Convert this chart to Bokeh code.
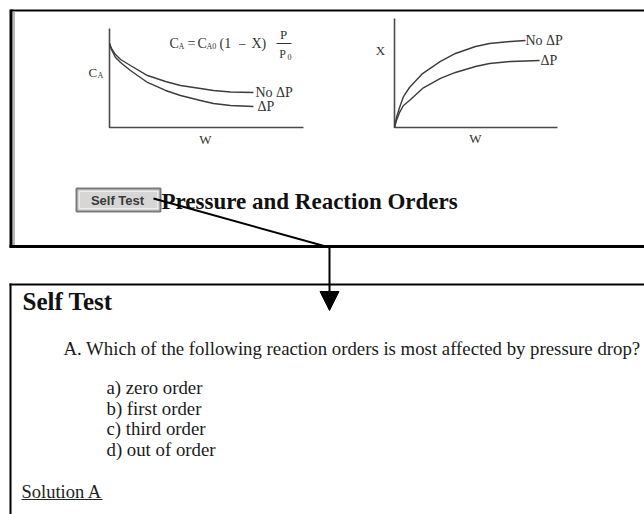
from bokeh.plotting import figure
from bokeh.models import Range1d, Arrow, NormalHead
from bokeh.core.properties import value
from bokeh.embed import file_html
from bokeh.resources import INLINE

# ---------------- data ----------------
# Left sketch: C_A versus W (axis units 0..10)
left_w = [0, 0.10, 0.31, 0.57, 1.08, 1.96, 2.89, 3.66, 4.69, 5.36, 6.24, 7.42]
left_ca_no_dp = [8.48, 7.98, 7.37, 6.87, 6.26, 5.25, 4.65, 4.24, 3.94, 3.74, 3.59, 3.54]
left_ca_dp = [8.48, 7.88, 7.07, 6.57, 5.76, 4.55, 3.74, 3.23, 2.73, 2.42, 2.22, 2.12]
# Right sketch: X versus W (axis units 0..10)
right_w_no_dp = [0, 0.12, 0.31, 0.55, 0.92, 1.72, 2.82, 3.74, 4.97, 5.83, 7.12, 8.04]
right_x_no_dp = [0, 0.92, 1.83, 2.84, 3.67, 4.95, 6.06, 6.79, 7.43, 7.71, 7.89, 7.98]
right_w_dp = [0, 0.12, 0.31, 0.55, 0.92, 1.72, 2.82, 3.74, 4.97, 5.83, 7.12, 8.04, 8.90]
right_x_dp = [0, 0.64, 1.38, 2.02, 2.48, 3.58, 4.50, 5.05, 5.60, 5.87, 6.06, 6.10, 6.15]
curve_labels = ["No \u0394P", "\u0394P"]

button_label = "Self Test"
top_title = "Pressure and Reaction Orders"
bottom_title = "Self Test"
question = "A. Which of the following reaction orders is most affected by pressure drop?"
options = ["a) zero order", "b) first order", "c) third order", "d) out of order"]
solution_link = "Solution A"

# ---------------- canvas ----------------
W, H = 644, 514
OX, OY = 0, 0  # canvas coordinates equal screenshot pixels
p = figure(width=W, height=H, output_backend="svg", toolbar_location=None,
           x_range=Range1d(OX, OX + W), y_range=Range1d(OY + H, OY),
           min_border=0, background_fill_color="white", border_fill_color="white")
p.axis.visible = False
p.grid.visible = False
p.outline_line_color = None

SERIF = "Liberation Serif"
SANS = "Liberation Sans"
INK = "#333333"


def add_range(name, p0, p1, horizontal):
    """Extra range so that 0 -> pixel p0 and 10 -> pixel p1."""
    if horizontal:
        scale = (p1 - p0) / 10.0
        s = -(p0 - OX) / scale
        p.extra_x_ranges[name] = Range1d(s, s + W / scale)
    else:
        scale = (p0 - p1) / 10.0
        s = -((OY + H) - p0) / scale
        p.extra_y_ranges[name] = Range1d(s, s + H / scale)


def txt(x, y, s, size, font=SERIF, style="normal", align="left", color="#111111",
        baseline="middle"):
    p.text(x=[x], y=[y], text=[s], text_font=value(font), text_font_size=value(size),
           text_font_style=style, text_align=align, text_baseline=baseline,
           text_color=color)


# ---------------- frames ----------------
p.line([10, 660], [10, 10], line_color="black", line_width=2)          # top box top
p.line([10.5, 10.5], [9, 247], line_color="black", line_width=3)       # top box left
p.line([13.5, 13.5], [11, 245], line_color="#a0a0a0", line_width=1.5)  # inner shade
p.line([9, 660], [246, 246], line_color="black", line_width=3)         # top box bottom
p.line([9, 660], [284, 284], line_color="black", line_width=2)         # bottom box top
p.line([10, 10], [283, 530], line_color="black", line_width=2)         # bottom box left

# ---------------- left sketch ----------------
add_range("lw", 109, 303, True)
add_range("lc", 127, 28, False)
axc = "#4a4a4a"
p.line([0, 0, 10], [10, 0, 0], x_range_name="lw", y_range_name="lc",
       line_color=axc, line_width=1.6)
p.line(left_w, left_ca_no_dp, x_range_name="lw", y_range_name="lc",
       line_color="#3c3c3c", line_width=1.4, line_join="round")
p.line(left_w, left_ca_dp, x_range_name="lw", y_range_name="lc",
       line_color="#3c3c3c", line_width=1.4, line_join="round")
txt(255, 92, curve_labels[0], "14px", color=INK)
txt(257, 106, curve_labels[1], "14px", color=INK)
txt(205, 139, "W", "13px", align="center", color=INK)
txt(88, 72, "C", "13px", color=INK)
txt(97, 75, "A", "8px", color=INK)
# equation C_A = C_A0 (1 - X) P / P0
txt(169, 43, "C", "14px", color=INK)
txt(178, 46, "A", "8px", color=INK)
txt(187, 43, "=", "14px", color=INK)
txt(197, 43, "C", "14px", color=INK)
txt(206, 46, "A0", "8px", color=INK)
txt(219, 43, "(1", "14px", color=INK)
txt(238, 43, "\u2212", "14px", color=INK)
txt(251, 43, "X)", "14px", color=INK)
txt(283, 34, "P", "13px", align="center", color=INK)
p.line([276, 291], [43, 43], line_color=INK, line_width=1)
txt(282, 53, "P", "12px", align="center", color=INK)
txt(287, 56, "0", "8px", color=INK)

# ---------------- right sketch ----------------
add_range("rw", 394, 557, True)
add_range("rx", 127, 18, False)
p.line([0, 0, 10], [10, 0, 0], x_range_name="rw", y_range_name="rx",
       line_color=axc, line_width=1.6)
p.line(right_w_no_dp, right_x_no_dp, x_range_name="rw", y_range_name="rx",
       line_color="#3c3c3c", line_width=1.4, line_join="round")
p.line(right_w_dp, right_x_dp, x_range_name="rw", y_range_name="rx",
       line_color="#3c3c3c", line_width=1.4, line_join="round")
txt(525, 40, curve_labels[0], "14px", color=INK)
txt(540, 60, curve_labels[1], "14px", color=INK)
txt(475, 138, "W", "13px", align="center", color=INK)
txt(380, 50, "X", "13px", align="center", color=INK)

# ---------------- button + title ----------------
p.quad(left=[76], right=[160], top=[188], bottom=[211], fill_color="#d6d6d6",
       line_color="#7a7a7a", line_width=2)
p.quad(left=[79], right=[157], top=[191], bottom=[208], fill_color=None,
       line_color="#ececec", line_width=1)
txt(117, 200, button_label, "13px", font=SANS, style="bold", align="center",
    color="#3a3a3a")
txt(161, 201, top_title, "23px", style="bold", color="#111111")

# connector arrow
p.line([153, 329], [198, 247], line_color="black", line_width=2)
p.add_layout(Arrow(x_start=329, y_start=246, x_end=329, y_end=310, line_width=2,
                   line_color="black",
                   end=NormalHead(size=19, fill_color="black", line_color="black")))

# ---------------- lower panel ----------------
txt(22, 301, bottom_title, "25px", style="bold", color="#111111")
txt(63, 348, question, "18.8px", color="#1a1a1a")
opt_y = [387, 408, 428, 449]
for s, yy in zip(options, opt_y):
    txt(106, yy, s, "18.8px", color="#1a1a1a")
txt(21, 491, solution_link, "18.5px", color="#222222")
p.line([21, 102], [499, 499], line_color="#222222", line_width=1)

open("out.html", "w").write(file_html(p, INLINE))
